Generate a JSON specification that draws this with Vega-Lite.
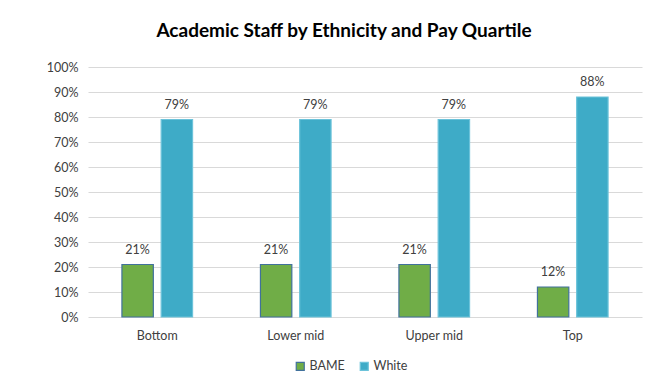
{
  "$schema": "https://vega.github.io/schema/vega-lite/v6.json",
  "width": 554,
  "height": 250,
  "autosize": {"type": "none"},
  "padding": {"left": 88, "top": 67, "right": 12, "bottom": 71},
  "background": "white",
  "config": {"view": {"stroke": null}},
  "title": {
    "text": "Academic Staff by Ethnicity and Pay Quartile",
    "anchor": "middle",
    "font": "Lato",
    "fontSize": 19,
    "fontWeight": "bold",
    "color": "#000000",
    "offset": 20,
    "dx": -21
  },
  "data": {
    "values": [
      {"quartile": "Bottom", "group": "BAME", "value": 0.21},
      {"quartile": "Bottom", "group": "White", "value": 0.79},
      {"quartile": "Lower mid", "group": "BAME", "value": 0.21},
      {"quartile": "Lower mid", "group": "White", "value": 0.79},
      {"quartile": "Upper mid", "group": "BAME", "value": 0.21},
      {"quartile": "Upper mid", "group": "White", "value": 0.79},
      {"quartile": "Top", "group": "BAME", "value": 0.12},
      {"quartile": "Top", "group": "White", "value": 0.88}
    ]
  },
  "encoding": {
    "x": {
      "field": "quartile",
      "type": "nominal",
      "sort": ["Bottom", "Lower mid", "Upper mid", "Top"],
      "scale": {"paddingInner": 0.49, "paddingOuter": 0.245},
      "axis": {
        "title": null,
        "labelAngle": 0,
        "ticks": false,
        "domain": false,
        "labelFont": "Lato",
        "labelFontSize": 12.5,
        "labelColor": "#404040",
        "labelPadding": 12
      }
    },
    "xOffset": {
      "field": "group",
      "type": "nominal",
      "scale": {"paddingInner": 0.2, "paddingOuter": 0}
    },
    "y": {
      "field": "value",
      "type": "quantitative",
      "scale": {"domain": [0, 1]},
      "axis": {
        "title": null,
        "format": ".0%",
        "values": [0, 0.1, 0.2, 0.3, 0.4, 0.5, 0.6, 0.7, 0.8, 0.9, 1],
        "labelOverlap": false,
        "ticks": false,
        "domain": false,
        "gridColor": "#D9D9D9",
        "gridWidth": 1,
        "labelFont": "Lato",
        "labelFontSize": 12.5,
        "labelColor": "#404040",
        "labelPadding": 10
      }
    }
  },
  "layer": [
    {
      "mark": {"type": "bar", "strokeWidth": 1.2},
      "encoding": {
        "color": {
          "field": "group",
          "type": "nominal",
          "scale": {"domain": ["BAME", "White"], "range": ["#70AD47", "#3EABC7"]},
          "legend": {
            "title": null,
            "orient": "none",
            "direction": "horizontal",
            "legendX": 206,
            "legendY": 293,
            "symbolType": "square",
            "symbolSize": 64,
            "symbolStrokeWidth": 1.2,
            "labelFont": "Lato",
            "labelFontSize": 12.5,
            "labelColor": "#404040",
            "columnPadding": 12,
            "labelOffset": 3
          }
        },
        "stroke": {
          "field": "group",
          "type": "nominal",
          "scale": {"domain": ["BAME", "White"], "range": ["#41719C", "#6CC3DA"]},
          "legend": null
        }
      }
    },
    {
      "mark": {
        "type": "text",
        "baseline": "bottom",
        "dy": -8,
        "font": "Lato",
        "fontSize": 12.5,
        "color": "#404040"
      },
      "encoding": {
        "text": {"field": "value", "type": "quantitative", "format": ".0%"}
      }
    }
  ]
}
